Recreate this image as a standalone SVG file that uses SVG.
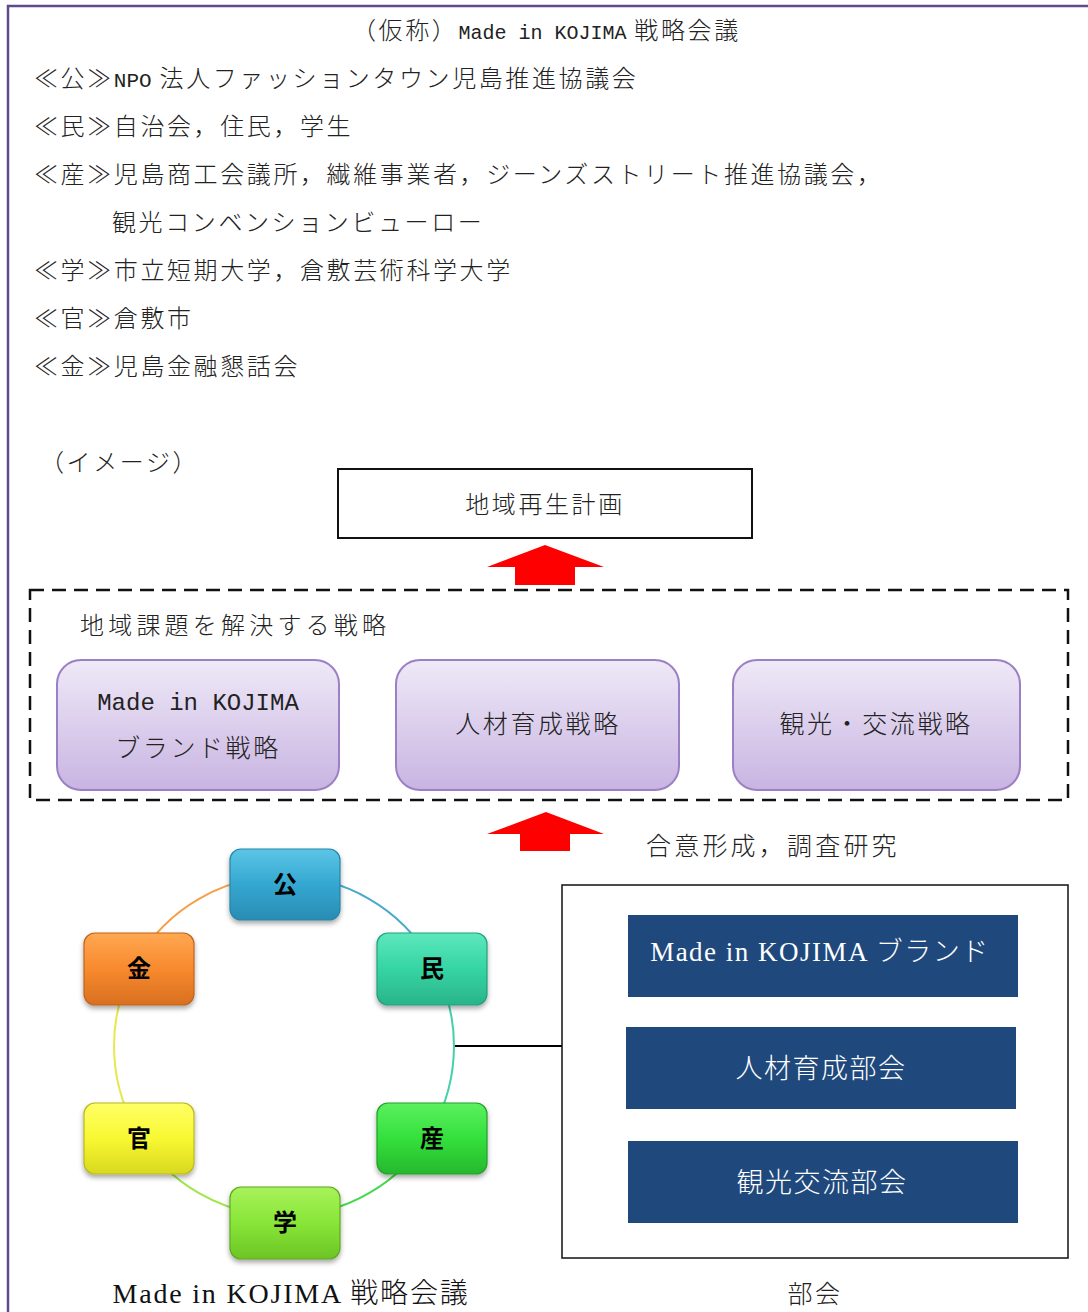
<svg xmlns="http://www.w3.org/2000/svg" width="1088" height="1312" viewBox="0 0 1088 1312">
<style>
.t{font-family:"Noto Sans CJK JP","Liberation Serif",sans-serif;font-size:24px;fill:#222;font-weight:300;letter-spacing:2.6px}
.m{font-family:"Liberation Mono",monospace;letter-spacing:0;font-weight:400}
.c{text-anchor:middle}
.pb{fill:url(#pg);stroke:#9b80c4;stroke-width:2}
.nl{font-family:"Noto Sans CJK JP",sans-serif;font-size:24px;font-weight:700;fill:#000;text-anchor:middle}
.nb{stroke-width:1.2;filter:url(#sh)}
.bb{fill:#1f497d}
.bt{font-family:"Liberation Serif","Noto Sans CJK JP",serif;font-size:27px;fill:#fff;text-anchor:middle;font-weight:300;letter-spacing:1.5px}
.arc{fill:none;stroke-width:2}
</style>
<defs>
<linearGradient id="pg" x1="0" y1="0" x2="0" y2="1"><stop offset="0" stop-color="#efe9f7"/><stop offset="1" stop-color="#c8b4e2"/></linearGradient>
<linearGradient id="g1" x1="0" y1="0" x2="0" y2="1"><stop offset="0" stop-color="#5cc6e6"/><stop offset="0.5" stop-color="#34a7d0"/><stop offset="1" stop-color="#2a8cb4"/></linearGradient>
<linearGradient id="g2" x1="0" y1="0" x2="0" y2="1"><stop offset="0" stop-color="#5de8bc"/><stop offset="0.5" stop-color="#36d4a4"/><stop offset="1" stop-color="#2ab48a"/></linearGradient>
<linearGradient id="g3" x1="0" y1="0" x2="0" y2="1"><stop offset="0" stop-color="#5cf060"/><stop offset="0.5" stop-color="#34e03c"/><stop offset="1" stop-color="#26b82e"/></linearGradient>
<linearGradient id="g4" x1="0" y1="0" x2="0" y2="1"><stop offset="0" stop-color="#a8f25a"/><stop offset="0.5" stop-color="#88e638"/><stop offset="1" stop-color="#6cc424"/></linearGradient>
<linearGradient id="g5" x1="0" y1="0" x2="0" y2="1"><stop offset="0" stop-color="#ffff66"/><stop offset="0.5" stop-color="#f8f832"/><stop offset="1" stop-color="#d8d820"/></linearGradient>
<linearGradient id="g6" x1="0" y1="0" x2="0" y2="1"><stop offset="0" stop-color="#ffa852"/><stop offset="0.5" stop-color="#f8892e"/><stop offset="1" stop-color="#d87020"/></linearGradient>
<filter id="sh" x="-20%" y="-20%" width="140%" height="150%"><feDropShadow dx="0" dy="3" stdDeviation="2.5" flood-color="#000" flood-opacity="0.35"/></filter>
</defs>

<g id="frame"><path d="M8 1312 V6 H1088" fill="none" stroke="#5f4a8b" stroke-width="2.5"/></g>

<g id="header">
<text class="t" x="352" y="39">（仮称）<tspan class="m" font-size="20">Made in KOJIMA</tspan> 戦略会議</text>
<text class="t" x="34" y="87">≪公≫<tspan class="m" font-size="21">NPO</tspan> 法人ファッションタウン児島推進協議会</text>
<text class="t" x="34" y="135">≪民≫自治会，住民，学生</text>
<text class="t" x="34" y="183">≪産≫児島商工会議所，繊維事業者，ジーンズストリート推進協議会，</text>
<text class="t" x="112" y="231">観光コンベンションビューロー</text>
<text class="t" x="34" y="279">≪学≫市立短期大学，倉敷芸術科学大学</text>
<text class="t" x="34" y="327">≪官≫倉敷市</text>
<text class="t" x="34" y="375">≪金≫児島金融懇話会</text>
<text class="t" x="40" y="471">（イメージ）</text>
</g>

<g id="plan"><rect x="338" y="469" width="414" height="69" fill="#fff" stroke="#111" stroke-width="2"/><text class="t c" x="545" y="513">地域再生計画</text></g>

<g id="connectors">
<polygon points="545,545 604,567 575,567 575,585 515,585 515,567 487,567" fill="#ff0000"/>
<polygon points="546,812 604,834 570,834 570,851 520,851 520,834 487,834" fill="#ff0000"/>
<line x1="454" y1="1046" x2="562" y2="1046" stroke="#000" stroke-width="2"/>
<path class="arc" stroke="#4aa9cc" d="M284 876 A170 170 0 0 1 431.2 961"/>
<path class="arc" stroke="#44d0a8" d="M431.2 961 A170 170 0 0 1 431.2 1131"/>
<path class="arc" stroke="#44d84c" d="M431.2 1131 A170 170 0 0 1 284 1216"/>
<path class="arc" stroke="#9ee64a" d="M284 1216 A170 170 0 0 1 136.8 1131"/>
<path class="arc" stroke="#e6e84c" d="M136.8 1131 A170 170 0 0 1 136.8 961"/>
<path class="arc" stroke="#f5a04a" d="M136.8 961 A170 170 0 0 1 284 876"/>
</g>

<g id="strategy">
<rect x="30" y="590" width="1038" height="210" fill="none" stroke="#111" stroke-width="2.5" stroke-dasharray="14 8"/>
<text class="t" x="80" y="634" style="letter-spacing:4.2px">地域課題を解決する戦略</text>
</g>
<g id="s1"><rect class="pb" x="57" y="660" width="282" height="130" rx="24"/><text class="t c m" x="198" y="710" font-size="23">Made in KOJIMA</text><text class="t c" x="198" y="757" style="font-size:25px">ブランド戦略</text></g>
<g id="s2"><rect class="pb" x="396" y="660" width="283" height="130" rx="24"/><text class="t c" x="538" y="733" style="font-size:25px">人材育成戦略</text></g>
<g id="s3"><rect class="pb" x="733" y="660" width="287" height="130" rx="24"/><text class="t c" x="876" y="733" style="font-size:25px">観光・交流戦略</text></g>

<text class="t" x="646" y="855" style="font-size:25px;letter-spacing:3.2px">合意形成，調査研究</text>

<g id="n-kou"><rect class="nb" x="230" y="849" width="110" height="71" rx="11" fill="url(#g1)" stroke="#2585a8"/><text class="nl" x="285" y="893">公</text></g>
<g id="n-min"><rect class="nb" x="377" y="933" width="110" height="72" rx="11" fill="url(#g2)" stroke="#23a07c"/><text class="nl" x="432" y="977">民</text></g>
<g id="n-san"><rect class="nb" x="377" y="1103" width="110" height="71" rx="11" fill="url(#g3)" stroke="#22a02a"/><text class="nl" x="432" y="1147">産</text></g>
<g id="n-gaku"><rect class="nb" x="230" y="1187" width="110" height="72" rx="11" fill="url(#g4)" stroke="#5ea820"/><text class="nl" x="285" y="1231">学</text></g>
<g id="n-kan"><rect class="nb" x="84" y="1103" width="110" height="71" rx="11" fill="url(#g5)" stroke="#b8b820"/><text class="nl" x="139" y="1147">官</text></g>
<g id="n-kin"><rect class="nb" x="84" y="933" width="110" height="72" rx="11" fill="url(#g6)" stroke="#c0641c"/><text class="nl" x="139" y="977">金</text></g>
<text class="bt" x="291" y="1303" style="fill:#111;font-size:28px;letter-spacing:1.8px">Made in KOJIMA 戦略会議</text>

<g id="bukai">
<rect x="562" y="885" width="506" height="373" fill="#fff" stroke="#111" stroke-width="1.5"/>
<text class="t c" x="815" y="1303" style="font-size:25px">部会</text>
</g>
<g id="b1"><rect class="bb" x="628" y="915" width="390" height="82"/><text class="bt" x="820" y="961">Made in KOJIMA ブランド</text></g>
<g id="b2"><rect class="bb" x="626" y="1027" width="390" height="82"/><text class="bt" x="821" y="1078">人材育成部会</text></g>
<g id="b3"><rect class="bb" x="628" y="1141" width="390" height="82"/><text class="bt" x="822" y="1192">観光交流部会</text></g>
</svg>
